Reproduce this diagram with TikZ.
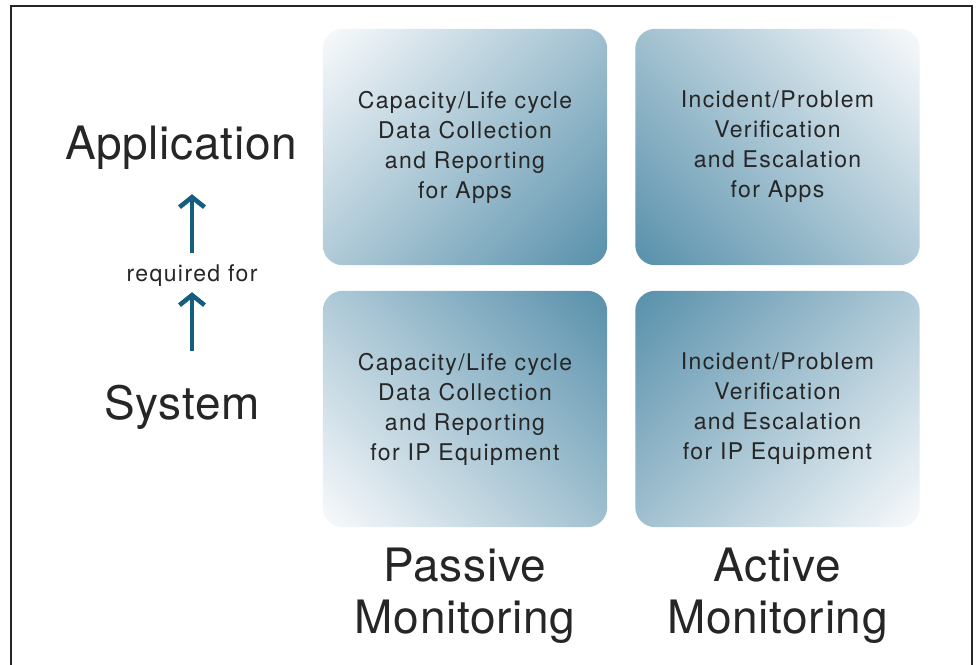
\documentclass[tikz,border=0pt]{standalone}
\usepackage{fontspec}
\setmainfont{TeX Gyre Heros}
\newfontfamily\cellfont[LetterSpace=6]{TeX Gyre Heros}
\newfontfamily\bigfont[LetterSpace=1.5]{TeX Gyre Heros}
\usetikzlibrary{arrows.meta,backgrounds}
\definecolor{cellDark}{RGB}{88,144,171}
\definecolor{cellLight}{RGB}{248,250,252}
\definecolor{arrowBlue}{RGB}{22,94,128}
\definecolor{inkGray}{RGB}{38,38,38}

\begin{document}
\begin{tikzpicture}[x=1pt,y=1pt,
    cell/.style={minimum width=284pt,minimum height=236pt,
        inner sep=0pt,align=center,text=inkGray,
        font=\cellfont\fontsize{23}{30}\selectfont},
    biglabel/.style={inner sep=0pt,align=center,text=inkGray,
        font=\bigfont\fontsize{46}{52}\selectfont},
    uparrow/.style={-{Straight Barb[length=10pt,width=25pt]},line width=4.6pt,arrowBlue}]
    \useasboundingbox (0,0) rectangle (979,664);
    \draw[line width=1.6pt,black!85] (11,-2) -- (11,658) -- (972,658) -- (972,-2);

    % the four cells
    \node[cell] (passapp) at (465,517)
        {Capacity/Life cycle\\Data Collection\\and Reporting\\for Apps};
    \node[cell] (actapp) at (777.5,517)
        {Incident/Problem\\Verification\\and Escalation\\for Apps};
    \node[cell] (passip) at (465,255)
        {Capacity/Life cycle\\Data Collection\\and Reporting\\for IP Equipment};
    \node[cell] (actip) at (777.5,255)
        {Incident/Problem\\Verification\\and Escalation\\for IP Equipment};

    % fades behind them, darker towards the middle
    \begin{scope}[on background layer]
        \fill[white] (0,0) rectangle (979,664);
        \foreach \c/\a in {passapp/45,actapp/-45,passip/135,actip/-135} {
            \begin{scope}
                \clip[rounded corners=20pt] (\c.south west) rectangle (\c.north east);
                \shade[shift={(\c.center)},top color=cellLight,bottom color=cellDark,
                    shading angle=\a] (-184,-184) rectangle (184,184);
            \end{scope}
        }
    \end{scope}

    % layers on the left
    \node[biglabel,anchor=base] (app) at (181,504) {Application};
    \node[biglabel,anchor=base] (sys) at (182,244) {System};
    \node[inner sep=0pt,anchor=base,text=inkGray,
        font=\cellfont\fontsize{23}{28}\selectfont] (req) at (192,382) {required for};
    \draw[uparrow,shorten <=12pt,shorten >=24pt] (req.north) -- (req.north |- app.south);
    \draw[uparrow,shorten <=34pt,shorten >=5pt] (req.south |- sys.north) -- (req.south);

    % monitoring kinds along the bottom
    \node[biglabel] (passive) at (465,68) {Passive\\Monitoring};
    \node[biglabel] (active) at (777.5,68) {Active\\Monitoring};
\end{tikzpicture}
\end{document}
